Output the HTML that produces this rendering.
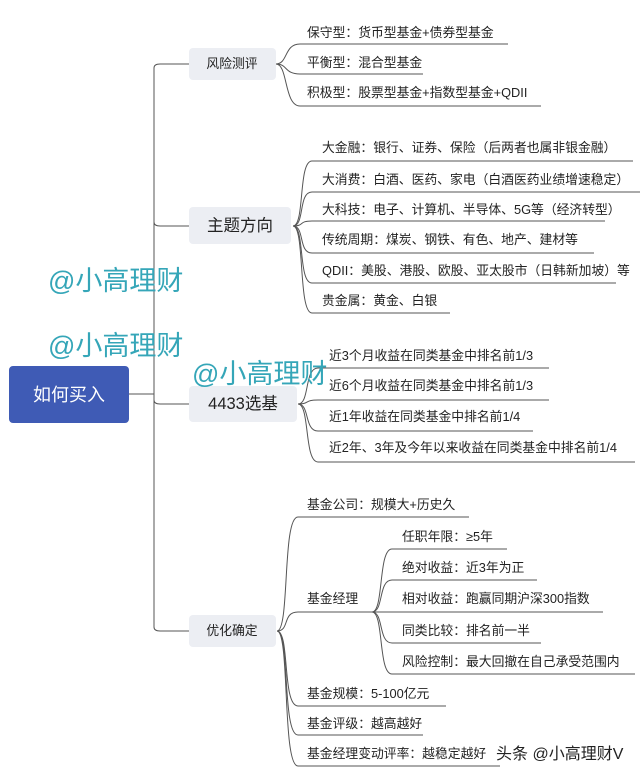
<!DOCTYPE html>
<html><head><meta charset="utf-8"><style>
html,body{margin:0;padding:0;background:#fff;}
svg{display:block;}
text{font-family:"Liberation Sans","Noto Sans CJK SC",sans-serif;fill:#222;}
.t{font-size:12.8px;}
.w{font-size:27px;fill:#35a6b8;}
</style></head><body>
<svg width="640" height="778" viewBox="0 0 640 778" xmlns="http://www.w3.org/2000/svg">
<g fill="none" stroke="#555" stroke-width="1">
<path d="M129 394 H154"/>
<path d="M154 627 V68 Q154 64 160 64 H189"/>
<path d="M154 222 Q154 226 160 226 H189"/>
<path d="M154 400 Q154 404 160 404 H189"/>
<path d="M154 627 Q154 631 160 631 H189"/>
<path d="M276 64 C288 64 284 44 300 44 H508"/>
<path d="M276 64 C288 64 284 74 300 74 H423"/>
<path d="M276 64 C288 64 284 106 300 106 H541"/>
<path d="M293 226 C305 226 298 161 312 161 H633"/>
<path d="M293 226 C305 226 298 192 312 192 H640"/>
<path d="M293 226 C305 226 298 221 312 221 H605"/>
<path d="M293 226 C305 226 298 253 312 253 H594"/>
<path d="M293 226 C305 226 298 283 312 283 H616"/>
<path d="M293 226 C305 226 298 313 312 313 H450"/>
<path d="M298 404 C310 404 304 368 318 368 H549"/>
<path d="M298 404 C310 404 304 400 318 400 H549"/>
<path d="M298 404 C310 404 304 431 318 431 H533"/>
<path d="M298 404 C310 404 304 462 318 462 H635"/>
<path d="M277 631 C290 631 282 517 298 517 H469"/>
<path d="M277 631 C290 631 282 612 298 612 H372"/>
<path d="M277 631 C290 631 282 706 298 706 H446"/>
<path d="M277 631 C290 631 282 735 298 735 H423"/>
<path d="M277 631 C290 631 282 766 298 766 H500"/>
<path d="M372 612 C384 612 378 549 392 549 H507"/>
<path d="M372 612 C384 612 378 580 392 580 H537"/>
<path d="M372 612 H603"/>
<path d="M372 612 C384 612 378 643 392 643 H541"/>
<path d="M372 612 C384 612 378 674 392 674 H635"/>
</g>
<rect x="9" y="366" width="120" height="57" rx="4" fill="#3f5bb5"/>
<text x="69" y="401" font-size="18" text-anchor="middle" style="fill:#fff">如何买入</text>
<rect x="189" y="48" width="87" height="32" rx="4" fill="#eceef3"/>
<text x="232" y="68" class="t" text-anchor="middle">风险测评</text>
<rect x="189" y="207" width="102" height="37" rx="4" fill="#eceef3"/>
<text x="240" y="231" font-size="16.5" text-anchor="middle">主题方向</text>
<rect x="189" y="386" width="108" height="36" rx="4" fill="#eceef3"/>
<text x="243" y="409" font-size="16.5" text-anchor="middle">4433选基</text>
<rect x="189" y="615" width="87" height="32" rx="4" fill="#eceef3"/>
<text x="232" y="635" class="t" text-anchor="middle">优化确定</text>
<g>
<text x="307" y="37" class="t">保守型：货币型基金+债券型基金</text>
<text x="307" y="67" class="t">平衡型：混合型基金</text>
<text x="307" y="97" class="t">积极型：股票型基金+指数型基金+QDII</text>
<text x="322" y="152" class="t">大金融：银行、证券、保险（后两者也属非银金融）</text>
<text x="322" y="184" class="t">大消费：白酒、医药、家电（白酒医药业绩增速稳定）</text>
<text x="322" y="214" class="t">大科技：电子、计算机、半导体、5G等（经济转型）</text>
<text x="322" y="244" class="t">传统周期：煤炭、钢铁、有色、地产、建材等</text>
<text x="322" y="275" class="t">QDII：美股、港股、欧股、亚太股市（日韩新加坡）等</text>
<text x="322" y="305" class="t">贵金属：黄金、白银</text>
<text x="329" y="360" class="t">近3个月收益在同类基金中排名前1/3</text>
<text x="329" y="390" class="t">近6个月收益在同类基金中排名前1/3</text>
<text x="329" y="421" class="t">近1年收益在同类基金中排名前1/4</text>
<text x="329" y="452" class="t">近2年、3年及今年以来收益在同类基金中排名前1/4</text>
<text x="307" y="509" class="t">基金公司：规模大+历史久</text>
<text x="307" y="603" class="t">基金经理</text>
<text x="402" y="541" class="t">任职年限：≥5年</text>
<text x="402" y="572" class="t">绝对收益：近3年为正</text>
<text x="402" y="603" class="t">相对收益：跑赢同期沪深300指数</text>
<text x="402" y="635" class="t">同类比较：排名前一半</text>
<text x="402" y="666" class="t">风险控制：最大回撤在自己承受范围内</text>
<text x="307" y="698" class="t">基金规模：5-100亿元</text>
<text x="307" y="728" class="t">基金评级：越高越好</text>
<text x="307" y="758" class="t">基金经理变动评率：越稳定越好</text>
</g>
<text x="496" y="759" font-size="16">头条 @小高理财V</text>
<text x="48" y="290" class="w">@小高理财</text>
<text x="48" y="355" class="w">@小高理财</text>
<text x="192" y="383" class="w">@小高理财</text>
</svg>
</body></html>
